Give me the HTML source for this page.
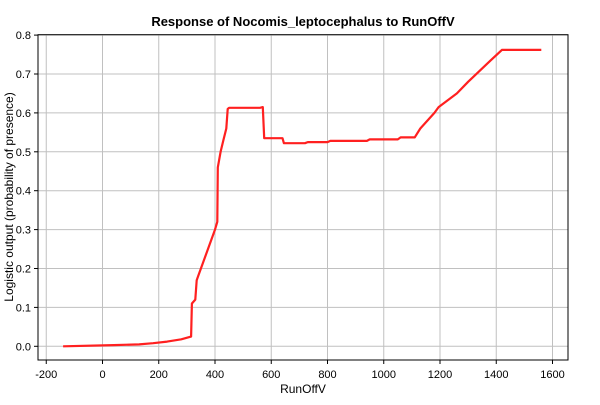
<!DOCTYPE html>
<html><head><meta charset="utf-8"><style>
body{margin:0;background:#fff;font-family:"Liberation Sans",sans-serif}
</style></head><body>
<svg id="c" width="600" height="400" xmlns="http://www.w3.org/2000/svg">
<rect width="600" height="400" fill="#fff"/>
<text x="303" y="26" text-anchor="middle" font-size="13" font-weight="bold" font-family="Liberation Sans">Response of Nocomis_leptocephalus to RunOffV</text>
<g id="grid"></g><g id="ticks"></g>
<rect x="38" y="34.7" width="530" height="325.3" fill="none" stroke="#000" stroke-width="1"/>
<path id="line" fill="none" stroke="#ff2020" stroke-width="2.2" stroke-linejoin="round"/>
<text x="303" y="393" text-anchor="middle" font-size="12">RunOffV</text>
<text transform="translate(13,197) rotate(-90)" text-anchor="middle" font-size="12">Logistic output (probability of presence)</text>
</svg>
<script>
const xTicks=[-200,0,200,400,600,800,1000,1200,1400,1600];
const yTicks=[0,0.1,0.2,0.3,0.4,0.5,0.6,0.7,0.8];
const xs=[-140,40,130,180,230,280,315,318,330,335,340,400,408,410,420,430,440,445,450,560,570,575,640,645,720,730,800,810,940,950,1050,1060,1110,1130,1180,1195,1260,1300,1380,1420,1560];
const ys=[0,0.003,0.005,0.008,0.012,0.018,0.025,0.11,0.12,0.17,0.18,0.3,0.32,0.46,0.5,0.53,0.56,0.61,0.613,0.613,0.615,0.535,0.535,0.522,0.522,0.525,0.525,0.528,0.528,0.532,0.532,0.537,0.537,0.56,0.6,0.615,0.65,0.68,0.735,0.762,0.762];
const X=v=>102.5+v*0.28125, Y=v=>346.3-v*389;
const g=document.getElementById('grid'),t=document.getElementById('ticks'),ns='http://www.w3.org/2000/svg';
function mk(p,tag,a){const e=document.createElementNS(ns,tag);for(const k in a)e.setAttribute(k,a[k]);p.appendChild(e);return e;}
xTicks.forEach(v=>{const x=X(v);
const l=mk(g,'line',{x1:x,x2:x,y1:34.7,y2:360,stroke:'#c0c0c0'});


mk(t,'line',{x1:x,x2:x,y1:360,y2:364,stroke:'#000'});
const tx=mk(t,'text',{x:x,y:378,'text-anchor':'middle','font-size':'11'});tx.textContent=v;

});
yTicks.forEach(v=>{const y=Y(v);
const l=mk(g,'line',{x1:38,x2:568,y1:y,y2:y,stroke:'#c0c0c0'});


mk(t,'line',{x1:34,x2:38,y1:y,y2:y,stroke:'#000'});
const tx=mk(t,'text',{x:31,y:y+4,'text-anchor':'end','font-size':'11'});tx.textContent=v.toFixed(1);

});
document.getElementById('line').setAttribute('d',xs.map((v,i)=>(i?'L':'M')+X(v).toFixed(1)+','+Y(ys[i]).toFixed(1)).join(''));
</script>
</body></html>
